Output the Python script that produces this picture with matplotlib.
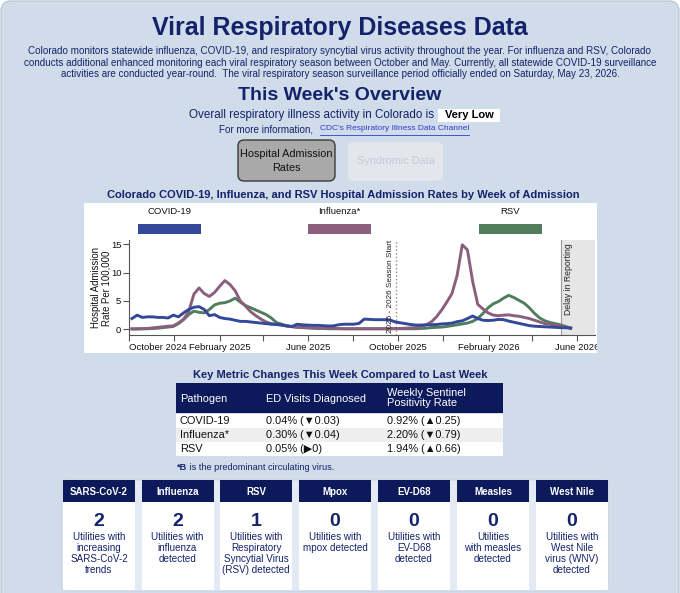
import matplotlib
matplotlib.use('Agg')
import matplotlib.pyplot as plt
from matplotlib.patches import Rectangle, FancyBboxPatch
from matplotlib.transforms import Bbox, TransformedBbox
from matplotlib import font_manager
import pandas as pd

# ---------------- data ----------------
first_week = '2024-10-05'

covid = [1.9, 2.5, 2.1, 2.2, 2.2, 2.1, 2.1, 2.0, 2.5, 2.2,
         2.9, 3.5, 3.9, 4.0, 3.5, 2.4, 2.6, 2.1, 1.9, 1.8,
         1.6, 1.4, 1.4, 1.3, 1.2, 1.1, 1.0, 0.9, 0.85, 0.8,
         0.6, 0.5, 0.9, 0.8, 0.75, 0.7, 0.7, 0.65, 0.6, 0.6,
         0.8, 0.9, 0.9, 0.9, 1.05, 1.8, 1.75, 1.7, 1.7, 1.7,
         1.65, 1.3, 1.15, 1.0, 0.85, 0.75, 0.75, 0.8,
         0.8, 0.85, 0.95, 1.0, 1.1, 1.35, 1.5, 1.9, 2.35, 1.9,
         1.6, 1.55, 1.6, 1.75, 1.7, 1.45, 1.25, 1.05, 0.85, 0.65,
         0.55, 0.5, 0.45, 0.4, 0.35, 0.3, 0.3, 0.2]

flu = [0.1, 0.1, 0.1, 0.15, 0.25, 0.35, 0.45, 0.55, 0.6, 1.1,
       1.8, 3.1, 6.2, 7.3, 6.3, 5.8, 6.5, 7.6, 8.6, 7.9,
       6.8, 5.0, 4.1, 3.1, 2.4, 1.8, 1.3, 1.0, 0.9, 0.7,
       0.6, 0.5, 0.4, 0.35, 0.3, 0.25, 0.2, 0.2, 0.15, 0.15,
       0.15, 0.1, 0.1, 0.1, 0.1, 0.1, 0.1, 0.1, 0.1, 0.1,
       0.1, 0.15, 0.15, 0.2, 0.25, 0.3,
       0.4, 0.8, 1.3, 2.2, 3.4, 4.8, 6.3, 9.5, 14.9, 14.0,
       8.5, 4.4, 3.6, 2.9, 2.5, 2.4, 2.5, 2.55, 2.4, 2.3,
       2.1, 1.9, 1.6, 1.3, 1.0, 0.9, 0.7, 0.55, 0.4, 0.25]

rsv = [0.05, 0.05, 0.1, 0.1, 0.15, 0.2, 0.3, 0.4, 0.5, 1.0,
       1.7, 2.6, 3.2, 3.0, 2.9, 3.5, 4.3, 4.6, 4.7, 5.0,
       5.5, 4.8, 4.2, 3.8, 3.4, 3.0, 2.6, 2.0, 1.2, 0.9,
       0.6, 0.45, 0.35, 0.3, 0.25, 0.2, 0.15, 0.15, 0.1, 0.1,
       0.1, 0.1, 0.1, 0.1, 0.1, 0.1, 0.1, 0.1, 0.1, 0.1,
       0.1, 0.1, 0.1, 0.1, 0.1, 0.1,
       0.15, 0.2, 0.3, 0.35, 0.4, 0.5, 0.65, 0.8, 0.95, 1.1,
       1.4, 1.9, 2.8, 3.8, 4.5, 4.9, 5.5, 6.0, 5.6, 5.1,
       4.6, 3.8, 2.8, 2.0, 1.5, 1.2, 1.0, 0.8, 0.5, 0.2]

series_names = ['COVID-19', 'Influenza*', 'RSV']
series_colors = ['#34489a', '#8a5f7e', '#507e5c']

season_start = '2025-09-28'
delay_start = '2026-05-10'
x_range = ['2024-10-01', '2026-06-25']
tick_dates = ['2024-10-01', '2025-02-01', '2025-06-01', '2025-10-01', '2026-02-01', '2026-06-01']
tick_labels = ['October 2024', 'February 2025', 'June 2025', 'October 2025', 'February 2026', 'June 2026']
minor_dates = ['2024-12-01', '2025-04-01', '2025-08-01', '2025-12-01', '2026-04-01']
y_ticks = [0, 5, 10, 15]

table_cols = ['Pathogen', 'ED Visits Diagnosed', 'Weekly Sentinel\nPositivity Rate']
pathogens = ['COVID-19', 'Influenza*', 'RSV']
ed_visits = ['0.04% (▼0.03)', '0.30% (▼0.04)', '0.05% (▶0)']
positivity = ['0.92% (▲0.25)', '2.20% (▼0.79)', '1.94% (▲0.66)']

card_titles = ['SARS-CoV-2', 'Influenza', 'RSV', 'Mpox', 'EV-D68', 'Measles', 'West Nile']
card_counts = [2, 2, 1, 0, 0, 0, 0]
card_texts = ['Utilities with\nincreasing\nSARS-CoV-2\ntrends',
              'Utilities with\ninfluenza\ndetected',
              'Utilities with\nRespiratory\nSyncytial Virus\n(RSV) detected',
              'Utilities with\nmpox detected',
              'Utilities with\nEV-D68\ndetected',
              'Utilities\nwith measles\ndetected',
              'Utilities with\nWest Nile\nvirus (WNV)\ndetected']

intro_lines = [
    'Colorado monitors statewide influenza, COVID-19, and respiratory syncytial virus activity throughout the year. For influenza and RSV, Colorado',
    'conducts additional enhanced monitoring each viral respiratory season between October and May. Currently, all statewide COVID-19 surveillance',
    'activities are conducted year-round.  The viral respiratory season surveillance period officially ended on Saturday, May 23, 2026.',
]

# ---------------- fonts ----------------
names = {f.name for f in font_manager.fontManager.ttflist}
if 'Liberation Sans Narrow' in names:
    FONT, K = 'Liberation Sans Narrow', 1.15
else:
    FONT, K = 'Liberation Sans', 1.0
plt.rcParams['font.family'] = [FONT, 'DejaVu Sans']

NAVY = '#13226b'
HEAD = '#0c1a5b'
W, H = 680, 593

fig = plt.figure(figsize=(W / 100, H / 100), dpi=100, facecolor='white')
bg = fig.add_axes([0, 0, 1, 1])
bg.set_xlim(0, W)
bg.set_ylim(H, 0)
bg.axis('off')


def px_axes(x0, y0, x1, y1):
    return fig.add_axes([x0 / W, 1 - y1 / H, (x1 - x0) / W, (y1 - y0) / H])


bg.add_patch(FancyBboxPatch((1, 1), W - 2, H + 20, boxstyle='round,pad=0,rounding_size=10',
                            fc='#d0dcea', ec='#bfcad8', lw=1))

# header texts
bg.text(340, 28, 'Viral Respiratory Diseases Data', ha='center', va='center',
        fontsize=18 * K, fontweight='bold', color=NAVY)
for j, line in enumerate(intro_lines):
    bg.text(340, 51.5 + 11.3 * j, line, ha='center', va='center', fontsize=7.15 * K, color=NAVY)
bg.text(340, 95, "This Week's Overview", ha='center', va='center',
        fontsize=14 * K, fontweight='bold', color=NAVY)
bg.text(434, 115, 'Overall respiratory illness activity in Colorado is', ha='right', va='center',
        fontsize=8.4 * K, color=NAVY)
bg.add_patch(Rectangle((438, 109), 62, 13, fc='white', ec='none'))
bg.text(469, 115.5, 'Very Low', ha='center', va='center', fontsize=8.0 * K,
        fontweight='bold', color='black')
bg.text(313, 129, 'For more information,', ha='right', va='center', fontsize=7.1 * K, color=NAVY)
link = bg.text(320, 129, "CDC's Respiratory Illness Data Channel", ha='left', va='center',
               fontsize=6.0 * K, color='#2b3fd0')

# buttons
bg.add_patch(FancyBboxPatch((238, 140), 97, 41, boxstyle='round,pad=0,rounding_size=6',
                            fc='#a9a9a9', ec='#3a3a3a', lw=1))
bg.text(286.5, 154, 'Hospital Admission', ha='center', va='center', fontsize=7.8 * K, color='#111111')
bg.text(286.5, 168, 'Rates', ha='center', va='center', fontsize=7.8 * K, color='#111111')
bg.add_patch(FancyBboxPatch((348, 142), 95, 39, boxstyle='round,pad=0,rounding_size=6',
                            fc='#e3e7ed', ec='none'))
bg.text(395.5, 161, 'Syndromic Data', ha='center', va='center', fontsize=7.8 * K, color='#c6cbd3')

# chart box
bg.text(343, 195, 'Colorado COVID-19, Influenza, and RSV Hospital Admission Rates by Week of Admission',
        ha='center', va='center', fontsize=8.05 * K, fontweight='bold', color=NAVY)
bg.add_patch(Rectangle((84, 203), 513, 150, fc='white', ec='none'))
legend_x = [138, 308, 479]
for lx, name, col in zip(legend_x, series_names, series_colors):
    bg.add_patch(Rectangle((lx, 224), 63, 10, fc=col, ec='none'))
    bg.text(lx + 31.5, 212, name, ha='center', va='center', fontsize=6.8 * K, color='#111111')
bg.text(101, 288, 'Hospital Admission\nRate Per 100,000', ha='center', va='center', rotation=90,
        fontsize=6.9 * K, color='#111111', linespacing=1.05)

ax = px_axes(129, 240, 595, 335)
ax.patch.set_visible(False)
dates = pd.date_range(first_week, periods=len(covid), freq='7D')
ax.axvspan(pd.Timestamp(delay_start), pd.Timestamp(x_range[1]), color='#e6e6e6', zorder=0, lw=0)
ax.axvline(pd.Timestamp(delay_start), color='#9a9a9a', lw=0.8, zorder=1)
ax.axvline(pd.Timestamp(season_start), color='#8a8a8a', lw=1.0, ls=':', zorder=1)
for vals, col in zip([rsv, flu, covid], [series_colors[2], series_colors[1], series_colors[0]]):
    ax.plot(dates, vals, color=col, lw=2.1, solid_joinstyle='round', zorder=3)
ax.text(pd.Timestamp(season_start) - pd.Timedelta(days=3), -0.7, '2025 - 2026 Season Start',
        rotation=90, ha='right', va='bottom', fontsize=5.9 * K, color='#222222')
ax.text(pd.Timestamp(delay_start) + pd.Timedelta(days=4), 15.2, 'Delay in Reporting',
        rotation=90, ha='left', va='top', fontsize=6.2 * K, color='#222222')
ax.set_xlim(pd.Timestamp(x_range[0]), pd.Timestamp(x_range[1]))
ax.set_ylim(-1.0, 15.75)
ax.set_yticks(y_ticks)
ax.set_xticks(pd.to_datetime(tick_dates), tick_labels)
ax.set_xticks(pd.to_datetime(minor_dates), minor=True)
ax.get_xticklabels()[0].set_ha('left')
for s in ['top', 'right']:
    ax.spines[s].set_visible(False)
for s in ['left', 'bottom']:
    ax.spines[s].set_color('#555555')
    ax.spines[s].set_linewidth(0.8)
ax.tick_params(axis='both', which='both', length=4, width=0.8, color='#555555',
               labelsize=6.8 * K, labelcolor='#111111', pad=1.5)
# labels do not spill outside the white chart box
clip = TransformedBbox(Bbox([[84, 203], [597, 353]]), bg.transData)
for lab in ax.get_xticklabels():
    lab.set_clip_box(clip)
    lab.set_clip_on(True)

# key metric table
bg.text(340, 375, 'Key Metric Changes This Week Compared to Last Week', ha='center', va='center',
        fontsize=8.0 * K, fontweight='bold', color=NAVY)
bg.add_patch(Rectangle((176, 383), 327, 30, fc=HEAD, ec='none'))
col_x = [180, 266, 387]
for cx, label in zip(col_x, table_cols):
    bg.text(cx, 398.5, label, ha='left', va='center', fontsize=7.9 * K, color='white', linespacing=1.0)
row_y = [421, 435, 449]
row_bg = ['white', '#eeeeee', 'white']
for ry, fc, p, e, s in zip(row_y, row_bg, pathogens, ed_visits, positivity):
    bg.add_patch(Rectangle((176, ry - 7.5), 327, 14.5, fc=fc, ec='none'))
    for cx, val in zip(col_x, [p, e, s]):
        bg.text(cx, ry, val, ha='left', va='center', fontsize=7.9 * K, color='#111111')
note = bg.text(177, 467, '*B', ha='left', va='center', fontsize=6.6 * K, fontweight='bold', color=NAVY)
bg.annotate(' is the predominant circulating virus.', xy=(1, 0.5), xycoords=note, ha='left', va='center',
            fontsize=6.6 * K, color=NAVY)

# surveillance cards
bg.add_patch(FancyBboxPatch((62, 480), 546, 111, boxstyle='round,pad=0,rounding_size=5',
                            fc='#e4eaf3', ec='#c9d2de', lw=0.6))
card_x = [63, 141.5, 220, 299, 378, 457, 536]
for cx, title, cnt, txt in zip(card_x, card_titles, card_counts, card_texts):
    bg.add_patch(Rectangle((cx, 502), 72, 88, fc='white', ec='none'))
    bg.add_patch(Rectangle((cx, 480), 72, 22, fc=HEAD, ec='none'))
    mid = cx + 36
    bg.text(mid, 492, title, ha='center', va='center', fontsize=7.0 * K, fontweight='bold', color='white')
    bg.text(mid, 522, str(cnt), ha='center', va='center', fontsize=14, fontweight='bold', color=NAVY)
    for j, line in enumerate(txt.split('\n')):
        bg.text(mid, 537 + 11 * j, line, ha='center', va='center', fontsize=7.1 * K, color=NAVY)

# underline for link
fig.canvas.draw()
bb = link.get_window_extent().transformed(bg.transData.inverted())
bg.plot([bb.x0, bb.x1], [134.5, 134.5], color='#2b3fd0', lw=0.6)

fig.savefig('out.png', dpi=100, facecolor=fig.get_facecolor())
